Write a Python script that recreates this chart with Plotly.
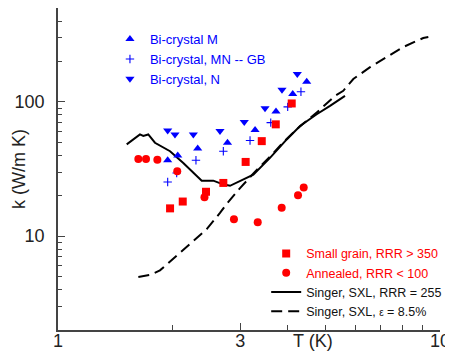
import numpy as np
import plotly.graph_objects as go

# ---- data ----
m_T = [1.937, 2.058, 2.321, 2.778, 3.280, 3.721, 4.116, 4.478]
m_k = [36.7, 39.8, 44.9, 49.6, 61.7, 84.7, 114.2, 141.3]

mn_T = [1.937, 2.045, 2.297, 2.709, 3.182, 3.605, 3.993, 4.325]
mn_k = [25.3, 29.5, 36.7, 42.9, 51.6, 70.1, 91.7, 118.9]

n_T = [1.937, 2.024, 2.261, 2.655, 3.073, 3.483, 3.858, 4.231]
n_k = [61.3, 57.2, 57.2, 60.6, 70.8, 89.7, 123.0, 161.3]

sg_T = [1.965, 2.121, 2.440, 2.709, 3.099, 3.415, 3.716, 4.091]
sg_k = [16.1, 18.1, 21.4, 24.9, 35.7, 51.0, 68.0, 97.3]

an_T = [1.623, 1.700, 1.820, 2.052, 2.418, 2.888, 3.333, 3.851, 4.249, 4.398]
an_k = [37.6, 37.6, 37.0, 30.4, 19.45, 13.35, 12.67, 16.3, 20.2, 23.0]

s255_T = [1.513, 1.639, 1.672, 1.723, 1.794, 1.849, 1.965, 2.128, 2.239, 2.378,
          2.550, 2.683, 2.820, 2.996, 3.246, 3.589, 3.970, 4.301, 4.756, 5.153, 5.640]
s255_k = [48.2, 57.2, 55.8, 57.2, 49.6, 47.3, 42.9, 35.1, 30.4, 25.9,
          25.9, 24.5, 23.7, 25.6, 28.7, 38.3, 52.5, 66.1, 80.9, 93.3, 110.9]

seps_T = [1.623, 1.741, 1.849, 2.004, 2.216, 2.451, 2.655, 2.765, 2.996, 3.280, 3.589,
          3.929, 4.301, 4.756, 5.311, 5.583, 5.93, 6.56, 7.25, 8.01, 9.04, 9.32]
seps_k = [4.97, 5.14, 5.56, 6.80, 8.64, 11.28, 14.88, 17.4, 22.8, 30.2, 39.1,
          51.6, 65.7, 83.2, 110.9, 120.9, 148.0, 181.2, 215.4, 255.9, 299, 304]

x_major = [1, 3, 10]
x_major_text = ["1", "3", "10"]
x_minor = [2, 4, 5, 6, 7, 8, 9]
y_major = [10, 100]
y_major_text = ["10", "100"]
y_minor = [2, 3, 4, 5, 6, 7, 8, 9, 20, 30, 40, 50, 60, 70, 80, 90, 200, 300, 400, 500]

FONT = "Liberation Sans, Arial, Helvetica, sans-serif"
BLUE = "#0000ff"
RED = "#ff0000"

fig = go.Figure()

fig.add_trace(go.Scatter(x=s255_T, y=s255_k, mode="lines",
                         line=dict(color="black", width=2),
                         name="Singer, SXL, RRR = 255", legend="legend2", legendrank=3))
fig.add_trace(go.Scatter(x=seps_T, y=seps_k, mode="lines",
                         line=dict(color="black", width=2, dash="11px,6px"),
                         name="Singer, SXL, <span style='font-size:10px'>ε</span> = 8.5%",
                         legend="legend2", legendrank=4))

fig.add_trace(go.Scatter(x=m_T, y=m_k, mode="markers",
                         marker=dict(symbol="triangle-up", size=8, color=BLUE),
                         name="Bi-crystal M", legend="legend", legendrank=1))
fig.add_trace(go.Scatter(x=mn_T, y=mn_k, mode="markers",
                         marker=dict(symbol="cross-thin", size=6, color=BLUE,
                                     line=dict(color=BLUE, width=1.1)),
                         name="Bi-crystal, MN -- GB", legend="legend", legendrank=2))
fig.add_trace(go.Scatter(x=n_T, y=n_k, mode="markers",
                         marker=dict(symbol="triangle-down", size=8, color=BLUE),
                         name="Bi-crystal, N", legend="legend", legendrank=3))

fig.add_trace(go.Scatter(x=sg_T, y=sg_k, mode="markers",
                         marker=dict(symbol="square", size=8, color=RED),
                         name="<span style='color:#ff0000'>Small grain, RRR &gt; 350</span>",
                         legend="legend2", legendrank=1))
fig.add_trace(go.Scatter(x=an_T, y=an_k, mode="markers",
                         marker=dict(symbol="circle", size=8, color=RED),
                         name="<span style='color:#ff0000'>Annealed, RRR &lt; 100</span>",
                         legend="legend2", legendrank=2))

axis_common = dict(type="log", showline=True, linecolor="#444", linewidth=1.5,
                   ticks="inside", tickcolor="#444", tickwidth=1.2, ticklen=7,
                   showgrid=False, zeroline=False, automargin=False,
                   tickfont=dict(family=FONT, size=18, color="#222"))

fig.update_xaxes(range=[0, 1], tickmode="array", tickvals=x_major, ticktext=x_major_text,
                 ticklabelstandoff=-6,
                 minor=dict(tickmode="array", tickvals=x_minor, ticks="inside",
                            ticklen=5, tickcolor="#444", tickwidth=1.2, showgrid=False),
                 **axis_common)
fig.update_yaxes(range=[np.log10(2), np.log10(500)], tickmode="array",
                 tickvals=y_major, ticktext=y_major_text, ticklabelstandoff=8,
                 minor=dict(tickmode="array", tickvals=y_minor, ticks="inside",
                            ticklen=4, tickcolor="#444", tickwidth=1.2, showgrid=False),
                 **axis_common)

# the page body adds an 8px margin, so the figure is sized/offset to compensate
fig.update_layout(
    width=445, height=343,
    margin=dict(l=50, r=13, t=0, b=21),
    paper_bgcolor="white", plot_bgcolor="white",
    font=dict(family=FONT, size=13, color="black"),
    showlegend=True,
    legend=dict(x=0.136, y=0.95, xanchor="left", yanchor="top",
                bgcolor="rgba(0,0,0,0)", font=dict(family=FONT, size=13, color=BLUE),
                tracegroupgap=0),
    legend2=dict(x=0.545, y=0.283, xanchor="left", yanchor="top",
                 bgcolor="rgba(0,0,0,0)", font=dict(family=FONT, size=12.5, color="#111"),
                 tracegroupgap=0),
    annotations=[
        dict(text="T (K)", xref="paper", yref="paper", x=0.6675, y=0,
             xanchor="center", yanchor="top", yshift=1, showarrow=False,
             font=dict(family=FONT, size=18, color="#222")),
        dict(text="k (W/m K)", xref="paper", yref="paper", x=0, y=0.5,
             xanchor="center", yanchor="middle", xshift=-39, textangle=-90,
             showarrow=False, font=dict(family=FONT, size=18, color="#222")),
    ],
)

fig.write_html("out.html")
